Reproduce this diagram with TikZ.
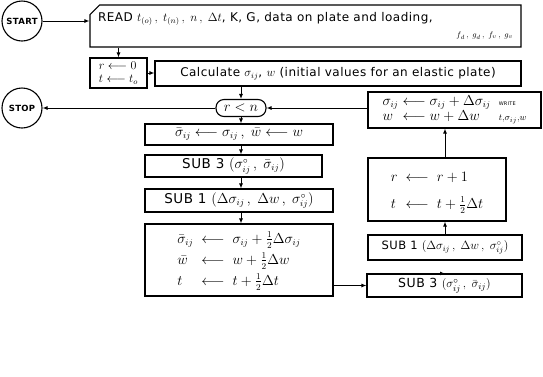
\documentclass[tikz,border=0pt]{standalone}
\usepackage{amsmath,amssymb}
\usepackage{fontspec}
\setmainfont{DejaVu Sans}[LetterSpace=4]
\usepackage{xcolor}
\usepackage{tikz}
\usetikzlibrary{arrows.meta,positioning,shapes.misc}
\newcommand{\lgets}{\longleftarrow}
\newcommand{\hlf}{\tfrac{1}{2}}
\newcommand{\sij}{\sigma_{ij}}
\newcommand{\cm}{\,,\;}

\begin{document}
\begin{tikzpicture}[x=1pt,y=-1pt,every node/.style={font=\fontsize{13.5}{15}\selectfont},
  box/.style={draw, line width=1.1pt, inner sep=2pt, minimum height=#1},
  box/.default=22pt,
  term/.style={draw, circle, line width=1.1pt, minimum size=40pt, inner sep=0pt, font=\fontsize{8.5}{10}\selectfont\bfseries},
  flow/.style={-{Latex[length=5pt,width=4pt]}, line width=1pt}]
  \useasboundingbox (0,0) rectangle (543,376);
  % input and start values
  \node[term] (start) at (22,21) {START};
  \node[box, chamfered rectangle, chamfered rectangle corners=north west, chamfered rectangle xsep=6pt,
        minimum width=431pt, minimum height=42pt, inner sep=0pt, font=\fontsize{12}{14}\selectfont] (readc) at (305.5,26)
    {\parbox{415pt}{READ $t_{(o)}\cm t_{(n)}\cm n\cm \Delta t$, K, G, data on plate and loading,\\[2pt]
      \hspace*{\fill}{\footnotesize $f_d\cm g_d\cm f_v\cm g_v$}}};
  \node[box=30pt, minimum width=57pt, align=left, font=\fontsize{12}{13}\selectfont] (init) at (118.5,73) {$r \lgets 0$\\ $t \lgets t_o$};
  \node[box=25pt, minimum width=366pt, inner sep=1pt, font=\fontsize{12}{14}\selectfont] (calc) at (338,73.5)
    {Calculate $\sij$, $w$ (initial values for an elastic plate)};
  \draw[flow] (start) -- (readc.west |- start);
  \draw[flow] (readc.south -| init) -- (init.north);
  \draw[flow] (init) -- (calc.west |- init);
  % loop test
  \node[draw, line width=1.1pt, rounded corners=8pt, minimum width=50pt, minimum height=17pt, inner sep=1pt] (rn) at (241,108) {$r < n$};
  \node[term] (stop) at (22,108) {STOP};
  \draw[flow] (calc.south -| rn) -- (rn.north);
  \draw[flow] (rn.west) -- (stop.east);
  % left column: first half step
  \node[box=21pt, minimum width=188pt] (avg) at (239,134.5) {$\bar\sigma_{ij} \lgets \sij\cm \bar w \lgets w$};
  \node[box=22pt, minimum width=177pt] (suba) at (233.5,166) {SUB 3 $(\sigma^{\circ}_{ij}\cm \bar\sigma_{ij})$};
  \node[box=23pt, minimum width=188pt] (subb) at (239,200.5) {SUB 1 $(\Delta\sij\cm \Delta w\cm \sigma^{\circ}_{ij})$};
  \node[box=72pt, minimum width=188pt] (half) at (239,260)
    {$\renewcommand{\arraystretch}{1.4}\begin{array}{@{}l@{\;\;}c@{\;\;}l@{}}
      \bar\sigma_{ij} & \lgets & \sij + \hlf\Delta\sij\\
      \bar w & \lgets & w + \hlf\Delta w\\
      t & \lgets & t + \hlf\Delta t
     \end{array}$};
  \draw[flow] (rn.south) -- (rn.south |- avg.north);
  \draw[flow] (avg.south -| rn) -- (rn |- suba.north);
  \draw[flow] (suba.south -| rn) -- (rn |- subb.north);
  \draw[flow] (subb.south -| rn) -- (rn |- half.north);
  % right column: second half step
  \node[box=23pt, minimum width=155pt, font=\fontsize{12.5}{14}\selectfont] (subc) at (444.5,285.5) {SUB 3 $(\sigma^{\circ}_{ij}\cm \bar\sigma_{ij})$};
  \node[box=25pt, minimum width=154pt, font=\fontsize{11.5}{13}\selectfont] (subd) at (445,247.5) {SUB 1 $(\Delta\sij\cm \Delta w\cm \sigma^{\circ}_{ij})$};
  \node[box=63pt, minimum width=138pt] (incr) at (437,189.5)
    {$\renewcommand{\arraystretch}{1.8}\begin{array}{@{}l@{\;\;}c@{\;\;}l@{}}
      r & \lgets & r + 1\\
      t & \lgets & t + \hlf\Delta t
     \end{array}$};
  \node[box=36pt, minimum width=173pt, inner sep=1pt] (write) at (454.5,110)
    {$\begin{array}{@{}l@{\;}c@{\;}l@{\;\;}l@{}}
      \sij & \lgets & \sij + \Delta\sij & \text{\tiny WRITE}\\
      w & \lgets & w + \Delta w & \scriptstyle t,\sigma_{ij},w
     \end{array}$};
  \draw[flow] (half.east |- subc) -- (subc.west);
  \draw[flow] (subc.north) -- (subc.north -| subd);
  \draw[flow] (subd.north) -- (subd.north |- incr.south);
  \draw[flow] (incr.north -| subd) -- (subd |- write.south);
  \draw[flow] (write.west |- rn) -- (rn.east);
\end{tikzpicture}
\end{document}
